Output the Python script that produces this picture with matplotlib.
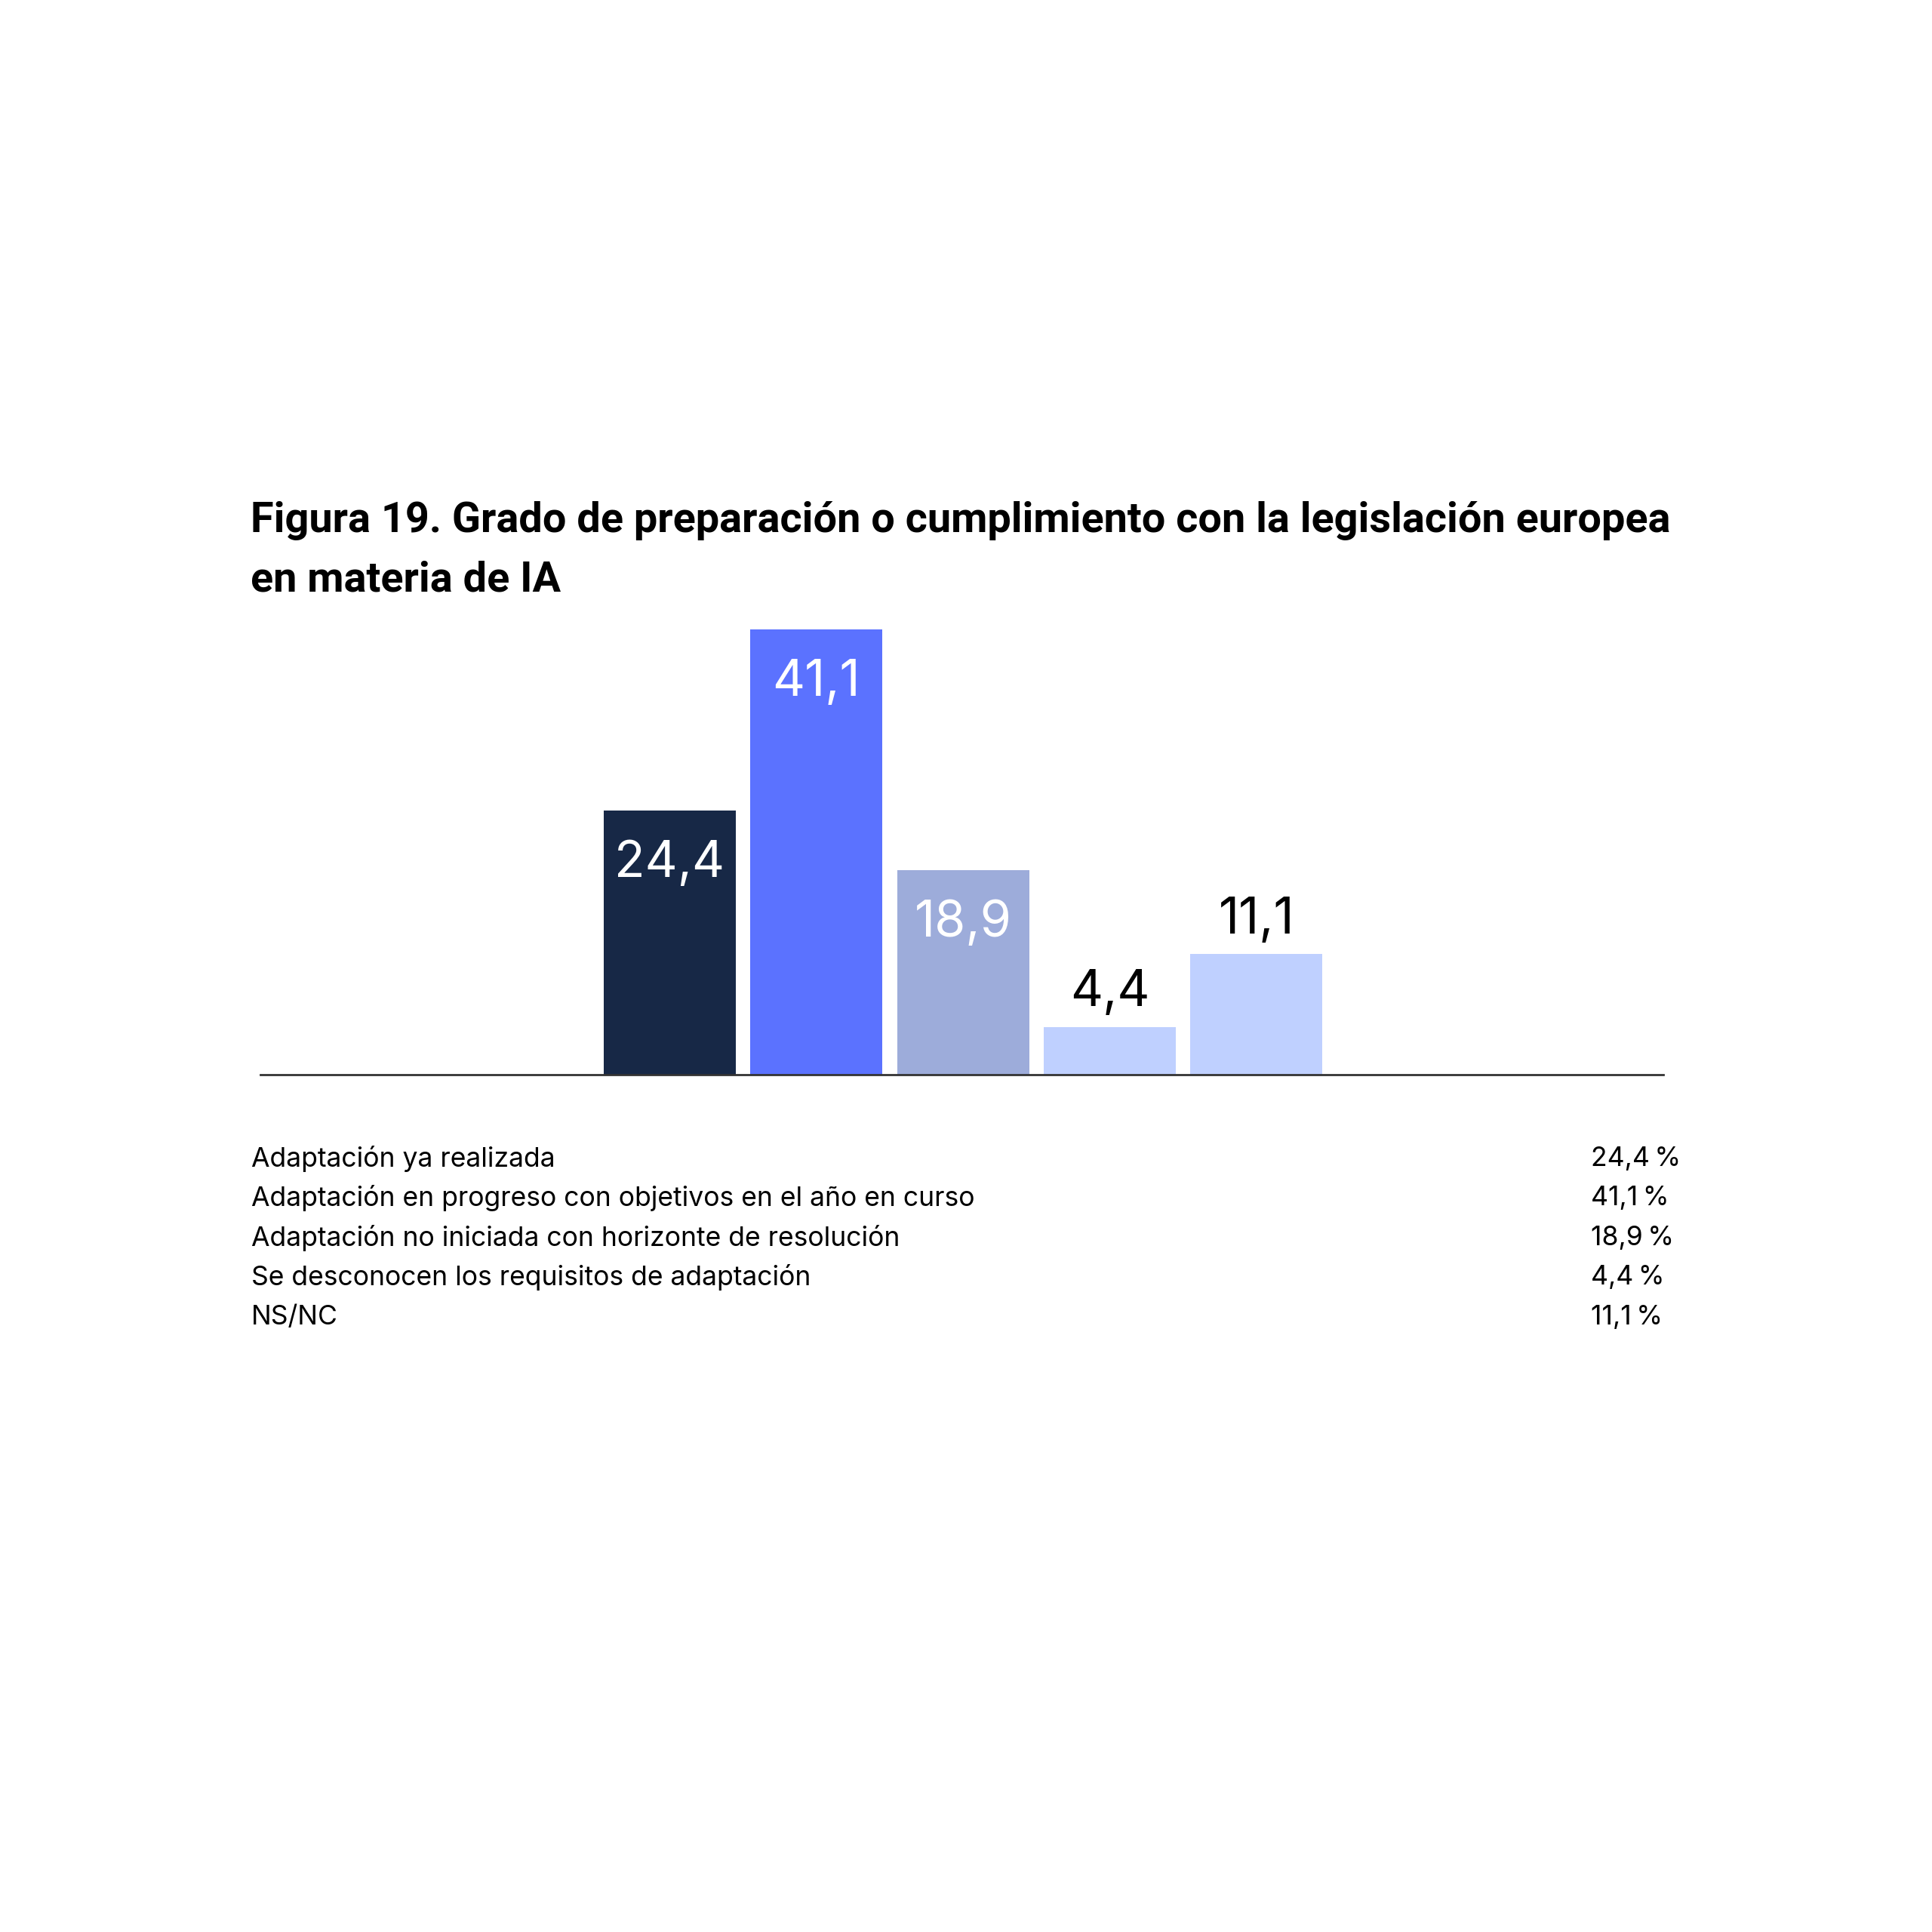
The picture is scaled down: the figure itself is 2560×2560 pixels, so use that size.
import matplotlib.pyplot as plt

# data
categorias = [
    "Adaptación ya realizada",
    "Adaptación en progreso con objetivos en el año en curso",
    "Adaptación no iniciada con horizonte de resolución",
    "Se desconocen los requisitos de adaptación",
    "NS/NC",
]
valores = [24.4, 41.1, 18.9, 4.4, 11.1]
colores = ["#172846", "#5B72FF", "#9DACDA", "#BFD0FF", "#BFD0FF"]
titulo = ["Figura 19. Grado de preparación o cumplimiento con la legislación europea",
          "en materia de IA"]

plt.rcParams['font.family'] = ['Inter', 'DejaVu Sans']

fig = plt.figure(figsize=(12.8, 12.8), dpi=200)

# title, two lines (tighter font)
for k, linea in enumerate(titulo):
    fig.text(0.1295, 0.7305 - k * 0.0307, linea, fontsize=20.1, fontweight='bold',
             family=['Roboto', 'DejaVu Sans'], va='center', ha='left')

ax = fig.add_axes([0.1346, 0.4439, 0.7265, 0.252])
x = list(range(len(valores)))
ax.bar(x, valores, width=0.9, color=colores, zorder=2)
ax.set_xlim(-2.794, 6.777)
ax.set_ylim(0, 45)

for i, v in enumerate(valores):
    txt = f"{v:.1f}".replace(".", ",")
    if v > 15:
        ax.annotate(txt, (i, v), xytext=(0, -14), textcoords='offset points',
                    ha='center', va='top', fontsize=24, color='white')
    else:
        ax.annotate(txt, (i, v), xytext=(0, 5), textcoords='offset points',
                    ha='center', va='bottom', fontsize=24, color='black')

for s in ['top', 'right', 'left']:
    ax.spines[s].set_visible(False)
ax.spines['bottom'].set_color('#333333')
ax.spines['bottom'].set_linewidth(1.0)
ax.set_xticks([])
ax.set_yticks([])

# list of categories with percentages below
y0 = 0.4002
for i, (c, v) in enumerate(zip(categorias, valores)):
    y = y0 - i * 0.0205
    fig.text(0.1301, y, c, fontsize=12.8, va='center', ha='left')
    fig.text(0.8235, y, f"{v:.1f}".replace(".", ",") + "\u2009%", fontsize=12.8,
             va='center', ha='left')

fig.savefig("out.png", dpi=200, facecolor='white')
